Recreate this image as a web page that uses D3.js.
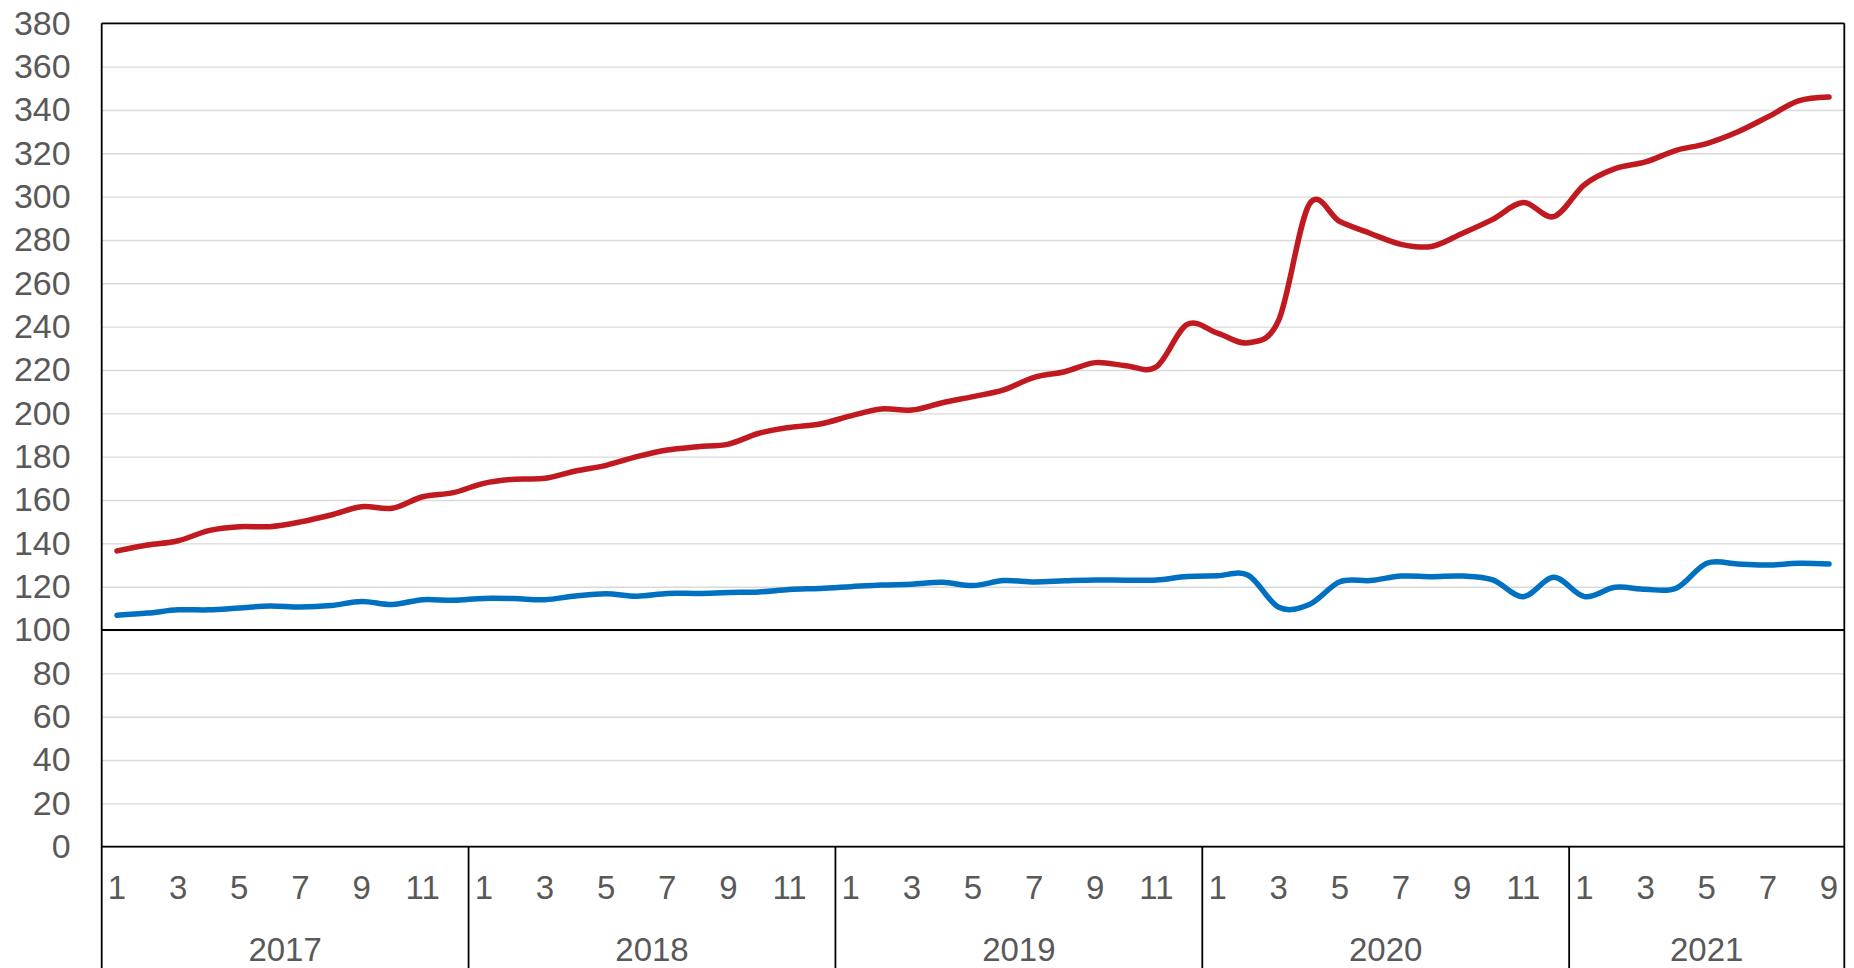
<!DOCTYPE html>
<html>
<head>
<meta charset="utf-8">
<script src="https://cdn.jsdelivr.net/npm/d3@7"></script>
<style>
  body { margin: 0; background: #fff; }
  svg { display: block; }
  text { font-family: "Liberation Sans", Arial, sans-serif; fill: #595959; }
</style>
</head>
<body>
<div id="chart"></div>
<script>
// data
let years = [2017, 2018, 2019, 2020, 2021];
let monthsPerYear = [12, 12, 12, 12, 9];
let yTicks = d3.range(0, 381, 20);

let redSeries = [
	136.5, 139.2, 141.2, 145.9, 147.7, 147.7, 149.9, 153.1, 156.9, 156.2, 161.5, 163.4,
	167.7, 169.6, 170.0, 173.4, 176.0, 180.0, 183.1, 184.6, 185.8, 190.8, 193.5, 195.1,
	198.8, 202.0, 201.5, 204.9, 207.7, 210.8, 216.6, 219.2, 223.4, 222.0, 221.5, 241.0,
	237.0, 232.6, 243.0, 296.5, 288.5, 283.0, 278.0, 277.0, 283.0, 289.5, 297.3, 290.8,
	305.5, 312.9, 316.0, 321.4, 324.5, 329.8, 336.8, 344.2, 346.0
];
let blueSeries = [
	106.8, 107.8, 109.3, 109.3, 110.2, 111.1, 110.6, 111.3, 113.2, 111.8, 114.0, 113.7,
	114.6, 114.5, 114.0, 115.7, 116.7, 115.6, 116.9, 116.9, 117.3, 117.6, 118.7, 119.2,
	120.0, 120.8, 121.1, 122.0, 120.5, 122.8, 122.2, 122.7, 123.1, 123.0, 123.1, 124.7,
	125.0, 125.3, 110.5, 111.8, 122.3, 122.8, 124.9, 124.6, 124.9, 123.1, 115.4, 124.3,
	115.4, 119.7, 118.8, 119.3, 130.8, 130.5, 130.0, 130.8, 130.5
];

// build the month categories
let categories = [];
years.forEach((yr, k) => {
	for (let m = 1; m <= monthsPerYear[k]; m++) categories.push({ year: yr, month: m, key: yr + "-" + m });
});

let width = 1854, height = 968;
let margin = { top: 23.3, left: 101.7, right: 9.7, bottom: 121.3 };
let plotBottom = height - margin.bottom;

let svg = d3.select("#chart").append("svg")
	.attr("width", width)
	.attr("height", height);

let x = d3.scaleBand()
	.domain(categories.map(d => d.key))
	.range([margin.left, width - margin.right]);

let y = d3.scaleLinear()
	.domain([0, 380])
	.range([plotBottom, margin.top]);

// gridlines
svg.append("g")
	.attr("transform", "translate(" + margin.left + ",0)")
	.call(d3.axisLeft(y).tickValues(yTicks).tickSize(-(width - margin.right - margin.left)).tickFormat(""))
	.call(g => g.select(".domain").remove())
	.call(g => g.selectAll("line").attr("stroke", "#d9d9d9").attr("stroke-width", 1.4));

// y labels
svg.append("g")
	.attr("transform", "translate(" + margin.left + ",0)")
	.call(d3.axisLeft(y).tickValues(yTicks).tickSize(0).tickPadding(31))
	.call(g => g.select(".domain").remove())
	.call(g => g.selectAll("text")
		.attr("font-size", "34px")
		.attr("fill", "#595959")
		.attr("font-family", "Liberation Sans, Arial, sans-serif"));

// lines
let line = d3.line()
	.x((d, i) => x(categories[i].key) + x.bandwidth() / 2)
	.y(d => y(d))
	.curve(d3.curveCatmullRom.alpha(0));

svg.append("path")
	.datum(blueSeries)
	.attr("fill", "none")
	.attr("stroke", "#0070C0")
	.attr("stroke-width", 5.5)
	.attr("stroke-linecap", "round")
	.attr("stroke-linejoin", "round")
	.attr("d", line);

svg.append("path")
	.datum(redSeries)
	.attr("fill", "none")
	.attr("stroke", "#C0191F")
	.attr("stroke-width", 5.5)
	.attr("stroke-linecap", "round")
	.attr("stroke-linejoin", "round")
	.attr("d", line);

// frame + line at 100
let frame = svg.append("g").attr("stroke", "#000").attr("stroke-width", 1.8);
frame.append("line")
	.attr("x1", margin.left).attr("x2", width - margin.right)
	.attr("y1", margin.top).attr("y2", margin.top);
frame.append("line")
	.attr("x1", margin.left).attr("x2", width - margin.right)
	.attr("y1", y(100)).attr("y2", y(100));
frame.append("line")
	.attr("x1", margin.left).attr("x2", width - margin.right)
	.attr("y1", y(0)).attr("y2", y(0));
frame.append("line")
	.attr("x1", margin.left).attr("x2", margin.left)
	.attr("y1", margin.top).attr("y2", height);
frame.append("line")
	.attr("x1", width - margin.right).attr("x2", width - margin.right)
	.attr("y1", margin.top).attr("y2", height);

// month labels (odd months)
let monthTicks = categories.filter(d => d.month % 2 === 1).map(d => d.key);
svg.append("g")
	.attr("transform", "translate(0," + plotBottom + ")")
	.call(d3.axisBottom(x).tickValues(monthTicks).tickSize(0).tickPadding(29)
		.tickFormat(k => k.split("-")[1]))
	.call(g => g.select(".domain").remove())
	.call(g => g.selectAll("text")
		.attr("font-size", "33px")
		.attr("fill", "#595959")
		.attr("font-family", "Liberation Sans, Arial, sans-serif"));

// year separators and labels
years.forEach((yr, k) => {
	let first = x(yr + "-1");
	let last = x(yr + "-" + monthsPerYear[k]) + x.bandwidth();
	if (k > 0) {
		svg.append("line")
			.attr("x1", first).attr("x2", first)
			.attr("y1", plotBottom).attr("y2", height)
			.attr("stroke", "#000").attr("stroke-width", 1.8);
	}
	svg.append("text")
		.attr("x", (first + last) / 2)
		.attr("y", 961)
		.attr("text-anchor", "middle")
		.attr("font-size", "33px")
		.text(yr);
});
</script>
</body>
</html>
